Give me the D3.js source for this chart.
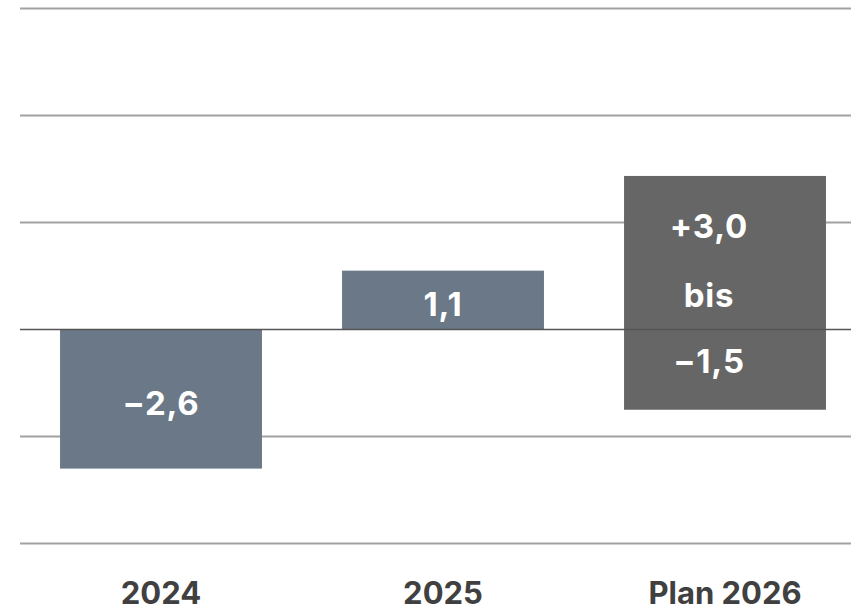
<!DOCTYPE html>
<html>
<head>
<meta charset="utf-8">
<script src="https://cdn.jsdelivr.net/npm/d3@7"></script>
<style>
  html, body { margin: 0; padding: 0; background: #fff; }
  svg { display: block; font-family: Inter, "Open Sans", sans-serif; }
</style>
</head>
<body>
<svg id="chart" width="851" height="609"></svg>
<script>
// data
const categories = ['2024', '2025', 'Plan 2026'];
const barLow = [-2.6, 0, -1.5];
const barHigh = [0, 1.1, 2.87];
const barColors = ['#6b7887', '#6b7887', '#666666'];
const gridTicks = [6, 4, 2, -2, -4];

// labels inside the bars: [category index, text, baseline position in value units]
const labelTexts = [
  { cat: 0, text: '\u22122,6', at: -1.6 },
  { cat: 1, text: '1,1', at: 0.25 },
  { cat: 2, text: '+3,0', at: 1.71 },
  { cat: 2, text: 'bis', at: 0.42 },
  { cat: 2, text: '\u22121,5', at: -0.81 },
];

const W = 851, H = 609;
const svg = d3.select('svg#chart');

let x = d3.scaleBand()
  .domain(categories)
  .range([20, 866])
  .paddingInner(0.284)
  .paddingOuter(0.142);

let y = d3.scaleLinear()
  .domain([-4, 6])
  .range([543.5, 8.5]);

// grey gridlines, behind bars
svg.append('g')
  .selectAll('line')
  .data(gridTicks)
  .join('line')
  .attr('x1', 20)
  .attr('x2', W)
  .attr('y1', d => y(d))
  .attr('y2', d => y(d))
  .style('stroke', '#a2a2a2')
  .style('stroke-width', 2);

svg.append('g')
  .selectAll('rect')
  .data(categories)
  .join('rect')
  .attr('x', d => x(d))
  .attr('width', x.bandwidth())
  .attr('y', (d, i) => y(barHigh[i]))
  .attr('height', (d, i) => y(barLow[i]) - y(barHigh[i]))
  .style('fill', (d, i) => barColors[i]);

// zero line on top of the bars
svg.append('line')
  .attr('x1', 20)
  .attr('x2', W)
  .attr('y1', y(0))
  .attr('y2', y(0))
  .style('stroke', '#555')
  .style('stroke-width', 1.5);

svg.append('g')
  .selectAll('text')
  .data(labelTexts)
  .join('text')
  .attr('x', d => x(categories[d.cat]) + x.bandwidth() / 2 - (d.cat === 2 ? 16 : 0))
  .attr('y', d => y(d.at))
  .attr('text-anchor', 'middle')
  .style('fill', '#fff')
  .style('font-size', '33px')
  .style('font-weight', 700)
  .style('letter-spacing', '0.8px')
  .text(d => d.text);

// category axis, no line/ticks
let xAxis = svg.append('g')
  .attr('transform', `translate(0, ${H - 5})`)
  .call(d3.axisBottom(x).tickSize(0).tickPadding(0));
xAxis.select('.domain').remove();
xAxis.selectAll('text')
  .attr('dy', 0)
  .attr('y', 0)
  .style('fill', '#404040')
  .style('font-family', 'Inter, "Open Sans", sans-serif')
  .style('font-size', '31px')
  .style('font-weight', 700);
</script>
</body>
</html>
